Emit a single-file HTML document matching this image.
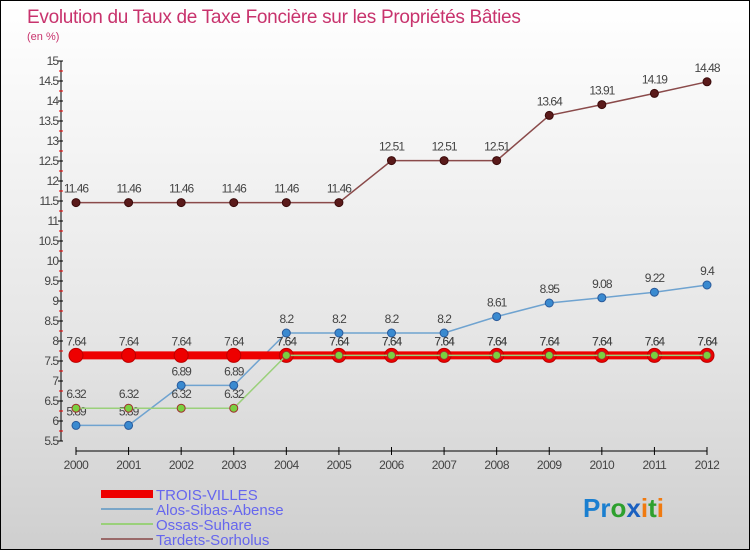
<!DOCTYPE html>
<html><head><meta charset="utf-8"><style>
body{margin:0}
#c{position:relative;width:748px;height:548px;border:1px solid #000;background:linear-gradient(#fff 0%,#e6e6e6 60%,#cfcfcf 100%);overflow:hidden;font-family:"Liberation Sans",sans-serif}
</style></head><body>
<div id="c">
<svg width="748" height="548" id="s">
<text x="26" y="22" font-size="19" fill="#c8336d" font-weight="300" letter-spacing="-0.3">Evolution du Taux de Taxe Foncière sur les Propriétés Bâties</text>
<text x="26" y="39" font-size="11" fill="#c8336d">(en %)</text>
<g id="ax"></g><g id="ser"></g>
<g>
<rect x="100" y="489" width="52" height="8" fill="#e00"/>
<text x="155" y="499" font-size="15" fill="#6666ee">TROIS-VILLES</text>
<rect x="100" y="507" width="52" height="2" fill="#7aa6c8"/>
<text x="155" y="514" font-size="15" fill="#6666ee">Alos-Sibas-Abense</text>
<rect x="100" y="522" width="52" height="2" fill="#9ad07a"/>
<text x="155" y="529" font-size="15" fill="#6666ee">Ossas-Suhare</text>
<rect x="100" y="537" width="52" height="2" fill="#9a6a6a"/>
<text x="155" y="544" font-size="15" fill="#6666ee">Tardets-Sorholus</text>
</g>
<g font-size="26" font-weight="bold">
<text x="582" y="516"><tspan fill="#1a7fd0">Pr</tspan><tspan fill="#2ea02e">o</tspan><tspan fill="#1a60c0">x</tspan><tspan fill="#f07a10">i</tspan><tspan fill="#2ea02e">t</tspan><tspan fill="#f07a10">i</tspan></text>
</g>
</svg></div>
<script>
const years=[2000,2001,2002,2003,2004,2005,2006,2007,2008,2009,2010,2011,2012];
const yTicks=[5.5,6,6.5,7,7.5,8,8.5,9,9.5,10,10.5,11,11.5,12,12.5,13,13.5,14,14.5,15];
const troisVilles=[7.64,7.64,7.64,7.64,7.64,7.64,7.64,7.64,7.64,7.64,7.64,7.64,7.64];
const alos=[5.89,5.89,6.89,6.89,8.2,8.2,8.2,8.2,8.61,8.95,9.08,9.22,9.4];
const ossas=[6.32,6.32,6.32,6.32,7.64,7.64,7.64,7.64,7.64,7.64,7.64,7.64,7.64];
const tardets=[11.46,11.46,11.46,11.46,11.46,11.46,12.51,12.51,12.51,13.64,13.91,14.19,14.48];
const NS="http://www.w3.org/2000/svg";
const X=i=>75+i*(706-75)/(years.length-1);
const Y=v=>440-(v-5.5)*40;
function mk(t,a,p){const e=document.createElementNS(NS,t);for(const k in a)e.setAttribute(k,a[k]);p.appendChild(e);return e;}
const ax=document.getElementById('ax'),ser=document.getElementById('ser');
let l=mk('line',{x1:60,y1:Y(15),x2:60,y2:Y(5.5),stroke:'#000'},ax);


yTicks.forEach(v=>{
 mk('line',{x1:57,x2:62,y1:Y(v),y2:Y(v),stroke:'#000'},ax);
 if(v>5.5) mk('line',{x1:58,x2:62,y1:Y(v)+10,y2:Y(v)+10,stroke:'#e00'},ax);
 const t=mk('text',{x:57,y:Y(v)+4,'text-anchor':'end','font-size':12,fill:'#444','letter-spacing':'-1'},ax);t.textContent=v;
 
 
});
l=mk('line',{x1:X(0),y1:450,x2:X(12),y2:450,stroke:'#000'},ax);


years.forEach((y,i)=>{
 mk('line',{x1:X(i),x2:X(i),y1:446,y2:454,stroke:'#000'},ax);
 const t=mk('text',{x:X(i),y:468,'text-anchor':'middle','font-size':12,fill:'#444','letter-spacing':'-0.5'},ax);t.textContent=y;
 
 
});
function series(d,name,col,w,r,fill,stroke){
 const g=mk('g',{},ser);
 
 
 mk('polyline',{points:d.map((v,i)=>X(i)+','+Y(v)).join(' '),fill:'none',stroke:col,'stroke-width':w},g);
 d.forEach((v,i)=>{
  const c=mk('circle',{cx:X(i),cy:Y(v),r:r,fill:fill,stroke:stroke,'stroke-width':1},g);
  
  
  const t=mk('text',{x:X(i),y:Y(v)-10,'text-anchor':'middle','font-size':12,fill:'#444','letter-spacing':'-1'},g);t.textContent=v;
  
  
 });
}
series(tardets,'tardets','#8a4a4a',1.5,4,'#5a1a1a','#3a0a0a');
series(alos,'alos','#6fa3d0',1.5,4,'#3a8ad0','#2a5a9a');
series(troisVilles,'trois-villes','#ee0000',8,7,'#ee0000','#b00');
series(ossas,'ossas','#9ad07a',1.5,4,'#7ad040','#a03030');
</script>
</body></html>
